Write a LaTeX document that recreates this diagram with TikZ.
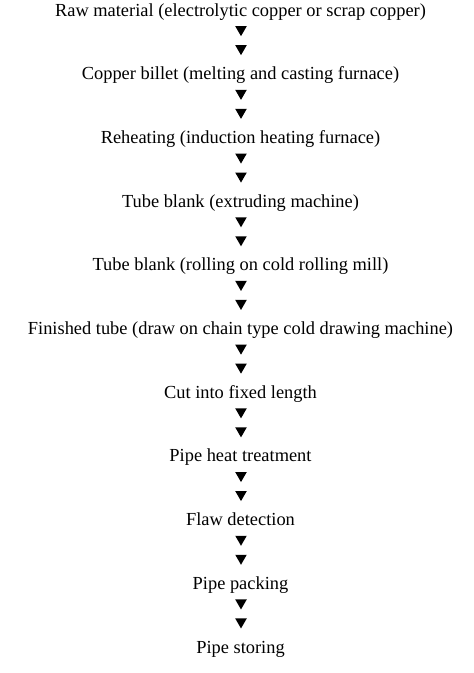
\documentclass[tikz,border=0pt]{standalone}
\usepackage{fontspec}
\setmainfont{Liberation Serif}
\usetikzlibrary{shapes.geometric}
\begin{document}
\begin{tikzpicture}[x=1pt,y=1pt,
  stepbox/.style={anchor=base,inner sep=0pt,font=\fontsize{18.4}{22}\selectfont},
  tri/.style={regular polygon,regular polygon sides=3,shape border rotate=180,fill=black,inner sep=0pt,minimum size=13.3pt}]
\useasboundingbox (0,0) rectangle (474,-673);
\def\cx{240.5}
\foreach \i/\t in {0/{Raw material (electrolytic copper or scrap copper)},
  1/{Copper billet (melting and casting furnace)},
  2/{Reheating (induction heating furnace)},
  3/{Tube blank (extruding machine)},
  4/{Tube blank (rolling on cold rolling mill)},
  5/{Finished tube (draw on chain type cold drawing machine)},
  6/{Cut into fixed length},
  7/{Pipe heat treatment},
  8/{Flaw detection},
  9/{Pipe packing},
  10/{Pipe storing}}{
  \node[stepbox] (s\i) at (\cx,{-16-63.7*\i}) {\t};
}
\foreach \i in {0,...,9}{
  \node[tri] (ta\i) at (241,{-16-63.7*\i-13.5}) {};
  \node[tri] (tb\i) at (241,{-16-63.7*\i-32.5}) {};
}
\end{tikzpicture}
\end{document}
